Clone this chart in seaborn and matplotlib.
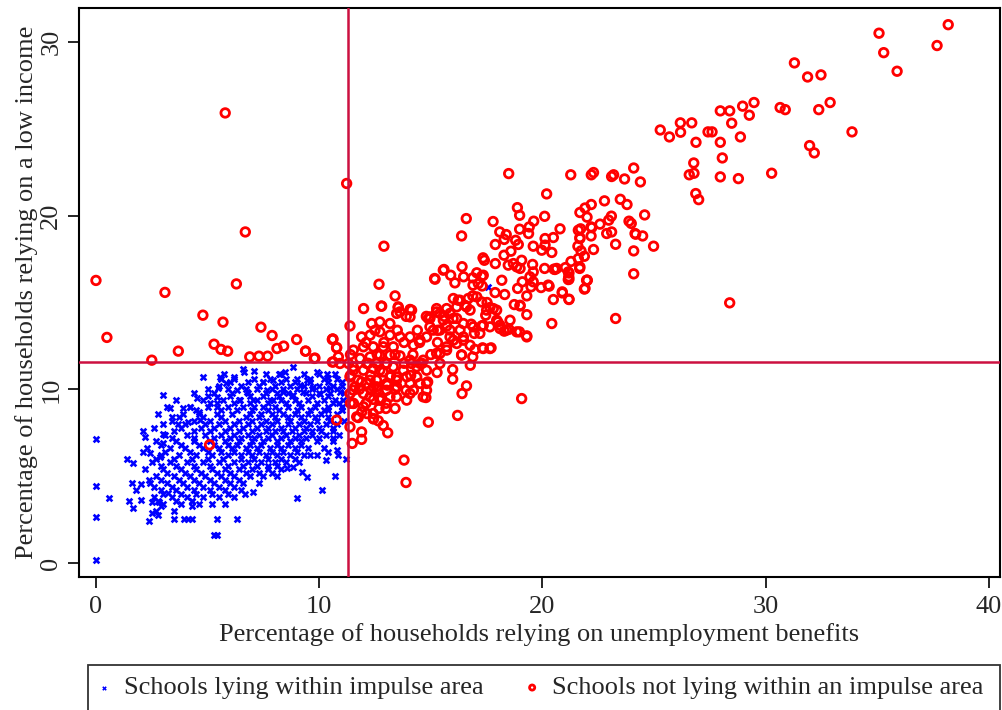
import numpy as np
import pandas as pd
import matplotlib
matplotlib.use("Agg")
import matplotlib.pyplot as plt
from matplotlib.patches import Rectangle
import seaborn as sns

# Schools not lying within an impulse area: (unemployment benefits %, low income %)
red_left = [
    (0.0, 16.27), (0.49, 12.99), (2.5, 11.68), (3.09, 15.58), (3.69, 12.2), (4.79, 14.27),
    (5.69, 13.87), (5.29, 12.6), (5.6, 12.3), (5.9, 12.2), (5.79, 25.91), (6.29, 16.07),
    (6.69, 19.06), (6.89, 11.87), (7.3, 11.91), (7.69, 11.91), (7.39, 13.58), (7.89, 13.1),
    (8.11, 12.35), (8.41, 12.49), (8.99, 12.87), (9.39, 12.2), (9.81, 11.8), (10.59, 12.87),
    (10.78, 12.39), (10.59, 11.57), (10.93, 11.49), (10.62, 12.89), (10.86, 11.87),
    (10.63, 11.58), (11.23, 21.85), (5.09, 6.81), (10.78, 8.23),
]
red_top = [
    (38.18, 30.99), (35.08, 30.5), (37.68, 29.79), (35.29, 29.38), (35.89, 28.31),
    (31.29, 28.79), (31.88, 27.98), (32.48, 28.1), (29.48, 26.51), (28.97, 26.3),
    (29.27, 25.78), (27.97, 26.03), (28.39, 26.03), (28.48, 25.32), (28.87, 24.53),
    (27.97, 24.22), (28.06, 23.32), (27.97, 22.23), (28.78, 22.13), (30.27, 22.44),
    (26.78, 23.03), (26.58, 22.35), (26.79, 22.44), (26.87, 21.27), (27.0, 20.92),
    (26.88, 24.22), (27.42, 24.82), (27.6, 24.82), (26.18, 25.34), (26.69, 25.34),
    (26.19, 24.8), (25.28, 24.93), (25.69, 24.53), (30.65, 26.22), (30.88, 26.1),
    (32.38, 26.1), (32.89, 26.51), (33.87, 24.82), (31.97, 24.03), (32.18, 23.61),
    (28.39, 14.98),
]
red_mid = [
    (21.27, 22.35), (22.19, 22.35), (22.29, 22.48), (23.1, 22.25), (23.19, 22.35),
    (23.68, 22.11), (24.09, 22.74), (24.39, 21.94), (22.78, 20.85), (23.49, 20.94),
    (23.79, 20.64), (24.58, 20.04), (22.19, 20.64), (21.91, 20.44), (21.68, 20.18),
    (22.0, 19.91), (23.09, 19.97), (22.97, 19.74), (22.58, 19.51), (23.88, 19.68),
    (23.98, 19.55), (20.79, 19.24), (21.61, 19.16), (21.71, 19.24), (22.18, 19.35),
    (22.18, 18.83), (21.68, 18.74), (22.88, 18.97), (23.1, 19.06), (24.18, 18.93),
    (24.49, 18.83), (23.28, 18.35), (24.98, 18.24), (24.09, 17.97), (22.29, 18.05),
    (21.59, 18.24), (20.49, 18.74), (20.42, 17.88), (21.73, 17.97), (21.88, 17.66),
    (21.61, 17.53), (21.28, 17.36), (21.03, 17.01), (20.56, 16.9), (21.19, 16.7),
    (21.67, 16.96), (21.19, 16.34), (22.0, 16.28), (21.88, 15.77), (20.89, 15.55),
    (21.19, 15.17), (20.49, 15.17), (24.09, 16.65), (23.28, 14.08), (20.42, 13.79),
    (20.12, 18.68), (20.12, 18.3), (19.97, 18.01), (19.59, 18.24), (21.68, 18.68),
    (22.21, 19.31), (21.16, 16.76), (21.16, 16.32), (21.98, 16.28), (20.64, 16.96),
    (20.26, 16.0), (24.15, 18.97),
]
red_upper_core = [
    (18.49, 22.42), (16.59, 19.83), (16.38, 18.83), (17.79, 19.66), (18.88, 20.46),
    (18.98, 20.02), (20.19, 21.25), (20.1, 19.96), (19.61, 19.68), (19.41, 19.35),
    (19.38, 18.97), (18.09, 19.06), (18.38, 18.91), (18.29, 18.63), (18.98, 19.22),
    (17.89, 18.34), (18.8, 18.58), (18.92, 18.34), (18.59, 17.95), (18.28, 17.72),
    (17.89, 17.24), (17.34, 17.57), (17.4, 17.43), (18.47, 17.15), (18.7, 17.24),
    (19.0, 16.96), (19.07, 17.43), (19.56, 17.19), (20.1, 16.96), (20.52, 16.92),
    (19.59, 16.76), (15.59, 16.9), (15.89, 16.57), (16.08, 16.13), (16.4, 17.06),
    (16.47, 16.48), (15.17, 16.38), (16.88, 16.42), (17.06, 16.71), (17.28, 16.51),
    (16.89, 16.0), (17.13, 16.09), (16.88, 15.38), (17.3, 15.95), (18.18, 16.28),
    (17.88, 15.57), (18.31, 15.46), (18.89, 15.81), (19.1, 16.19), (19.3, 15.38),
    (19.49, 15.9), (19.59, 16.19), (19.94, 15.86), (20.3, 15.94), (20.89, 15.61),
    (21.19, 15.19), (21.91, 15.81), (22.01, 16.28), (21.18, 16.48), (21.68, 17.05),
    (19.3, 14.3), (18.74, 14.88), (19.0, 14.8), (18.0, 13.88), (18.1, 13.69),
    (18.29, 13.35), (18.5, 13.46), (18.97, 13.31), (19.3, 13.08), (17.52, 15.0),
    (17.65, 14.71), (17.95, 14.56), (17.46, 14.27), (17.28, 13.65), (16.81, 13.75),
    (16.95, 13.22), (17.7, 12.39), (17.32, 12.39), (16.98, 12.3), (16.88, 11.87),
    (16.77, 11.39), (16.38, 11.99), (16.6, 10.2), (16.4, 9.76), (16.2, 8.5),
    (19.07, 9.47), (18.85, 17.05), (19.44, 16.48), (17.35, 16.57), (17.35, 13.69),
    (15.56, 16.86), (15.19, 16.34), (16.01, 15.23), (16.23, 15.13), (16.53, 14.84),
    (16.76, 14.56), (17.06, 15.32), (17.28, 15.03), (17.5, 14.56), (17.8, 14.65),
    (14.96, 14.17), (15.26, 14.46), (15.56, 13.98), (15.86, 14.37), (16.16, 14.08),
    (16.46, 13.79), (14.96, 13.6), (15.41, 13.41), (15.86, 13.41), (16.31, 13.41),
    (16.9, 13.6), (17.2, 13.22), (17.65, 13.6), (18.1, 13.5), (18.4, 13.41),
    (18.85, 13.31), (19.3, 13.02), (17.95, 13.98), (18.55, 13.98), (19.0, 14.84),
    (17.35, 12.35), (17.65, 12.35), (16.76, 12.54), (16.46, 12.83), (16.38, 11.97),
    (16.01, 12.83), (15.71, 12.26), (15.26, 12.07),
]
red_lower_core = [
    (12.9, 18.24), (12.68, 16.05), (13.4, 15.38), (12.8, 14.79), (11.99, 14.65),
    (11.38, 13.65), (10.6, 12.9), (9.39, 12.2), (9.78, 11.78), (10.78, 12.41),
    (13.07, 7.5), (12.87, 7.92), (12.65, 8.19), (12.43, 8.3), (11.9, 7.55), (11.9, 7.12),
    (11.48, 6.89), (11.75, 8.38), (11.38, 7.84), (13.4, 8.9), (12.99, 8.9), (12.68, 8.9),
    (12.8, 9.47), (12.43, 9.42), (13.17, 9.57), (13.89, 9.95), (13.47, 10.14),
    (13.05, 10.24), (14.14, 11.49), (13.62, 11.93), (14.22, 12.54), (14.81, 13.02),
    (15.11, 13.41), (14.96, 14.08), (15.71, 13.64), (16.0, 14.08), (15.41, 14.37),
    (16.16, 14.75), (15.71, 14.65), (16.31, 15.13), (16.6, 14.75), (16.68, 15.23),
    (15.26, 14.65), (14.89, 14.08), (14.14, 14.56), (14.07, 14.17), (13.62, 14.46),
    (13.54, 14.75), (13.17, 13.79), (12.72, 13.88), (12.35, 13.79), (13.17, 13.12),
    (12.72, 13.31), (12.28, 13.12), (11.9, 13.02), (13.62, 13.02), (14.07, 13.02),
    (14.52, 12.83), (11.98, 12.45), (12.42, 12.45), (12.87, 12.45), (13.32, 12.45),
    (11.53, 12.26), (11.83, 11.78), (12.28, 11.87), (12.72, 11.97), (13.17, 11.97),
    (11.53, 11.3), (11.98, 11.1), (12.42, 11.2), (12.87, 11.0), (13.32, 11.3),
    (13.77, 11.1), (11.75, 10.53), (12.13, 10.34), (12.57, 10.53), (13.02, 10.34),
    (13.47, 10.53), (13.92, 10.72), (11.53, 9.95), (11.98, 9.76), (12.35, 9.95),
    (11.53, 9.19), (11.98, 9.0), (12.42, 8.61), (14.37, 11.3), (14.66, 11.68),
    (14.52, 10.34), (14.22, 9.95), (15.41, 12.07), (15.71, 12.45), (15.86, 13.02),
    (16.16, 12.64), (16.46, 13.02), (15.41, 11.49), (14.86, 10.43), (14.81, 9.95),
    (14.78, 9.53), (13.8, 5.93), (13.89, 4.64), (15.98, 11.14), (15.98, 10.59),
    (15.28, 10.97), (14.89, 8.11), (12.78, 14.79), (13.54, 14.71), (14.07, 14.6),
    (13.47, 14.37), (11.31, 11.49), (11.53, 11.1), (11.38, 10.72), (11.6, 10.14),
    (11.38, 9.76), (11.53, 9.19), (11.91, 8.71), (11.68, 8.42), (12.13, 8.61),
    (12.43, 8.32), (11.9, 10.43), (12.43, 10.14), (12.72, 9.38), (12.28, 9.57),
    (12.2, 11.5), (13.0, 11.5), (13.8, 11.5), (14.6, 11.5), (11.4, 12.0), (12.6, 12.0),
    (13.4, 12.0), (14.2, 12.0), (15.0, 12.0), (12.1, 12.7), (12.9, 12.7), (13.8, 12.7),
    (14.5, 12.7), (15.3, 12.7), (12.5, 13.4), (13.5, 13.4), (14.4, 13.4), (15.3, 13.4),
    (13.9, 14.2), (14.8, 14.2), (15.6, 14.2), (11.4, 10.8), (12.3, 10.8), (13.2, 10.8),
    (14.1, 10.8), (11.8, 10.0), (12.6, 10.0), (13.4, 10.0), (11.4, 9.2), (12.1, 9.2),
    (13.0, 9.2), (14.07, 11.68), (14.52, 11.49), (14.81, 11.1), (14.37, 10.72),
    (14.07, 10.34), (14.81, 10.34), (14.07, 9.76), (14.66, 9.57), (13.47, 10.15),
    (13.17, 10.72), (12.72, 11.1), (13.47, 10.72), (13.92, 9.38), (13.47, 9.57),
    (13.02, 9.95), (12.57, 10.15), (12.28, 10.53), (12.13, 11.49), (12.57, 11.49),
    (13.02, 11.49),
]

# Schools lying within an impulse area
blue_edge = [
    (0.0, 7.12), (0.0, 4.43), (0.0, 2.63), (0.0, 0.16), (0.6, 3.72), (1.37, 6.02),
    (1.67, 5.79), (1.49, 3.55), (1.67, 3.15), (1.6, 4.62), (1.79, 4.22), (2.02, 4.53),
    (2.0, 3.62), (2.09, 6.4), (2.12, 7.61), (2.2, 7.23), (2.39, 2.43), (2.5, 2.86),
    (2.76, 2.76), (2.81, 3.53), (2.9, 3.26), (2.5, 3.49), (2.99, 9.67), (2.42, 6.31),
    (2.39, 4.78), (2.87, 6.12), (2.99, 6.89), (2.99, 7.42), (3.24, 4.01), (3.51, 2.53),
    (3.96, 2.53), (4.11, 2.53), (4.29, 2.53), (4.29, 3.57), (4.29, 3.3), (5.41, 2.53),
    (6.3, 2.53), (5.27, 1.63), (5.41, 1.63), (5.79, 3.43), (6.2, 3.81), (6.68, 3.95),
    (7.02, 4.07), (3.3, 8.9), (3.42, 8.42), (3.69, 8.0), (4.11, 8.1), (3.88, 8.9),
    (4.21, 8.99), (4.51, 9.48), (4.63, 8.71), (4.66, 8.23), (4.81, 10.69), (5.11, 9.19),
    (5.41, 8.99), (5.48, 10.05), (5.43, 9.57), (5.56, 10.69), (5.73, 10.91), (5.81, 10.34),
    (6.18, 10.69), (6.6, 11.2), (7.09, 11.06), (6.64, 11.0), (8.99, 3.72), (8.84, 5.54),
    (8.54, 5.45), (9.22, 5.22), (9.44, 4.97), (10.11, 4.2), (10.71, 5.02), (10.29, 5.93),
    (9.59, 6.21), (9.89, 6.25), (10.41, 6.4), (10.79, 6.5), (10.86, 6.21), (11.19, 6.02),
    (8.24, 10.91), (8.84, 11.3), (8.47, 11.0), (7.94, 10.53), (9.89, 11.0), (10.34, 10.91),
    (10.41, 10.63), (9.44, 10.53), (9.14, 10.24), (7.5, 10.43), (6.75, 9.86), (6.3, 9.95),
    (6.45, 9.38), (7.05, 9.38), (7.65, 9.95), (7.94, 9.38), (8.39, 9.86), (8.84, 9.67),
    (9.29, 9.86), (9.74, 10.14), (10.04, 9.76), (10.48, 10.05), (10.93, 9.86),
    (11.08, 9.38), (17.58, 15.9),
]
# Dense body of the within-area cloud, row by row: (low income %, [unemployment %])
blue_rows = [
    (10.9, [7.6, 8.2, 9.3, 10.0, 10.7]),
    (10.6, [5.6, 6.2, 7.1, 7.8, 8.5, 9.0, 9.6, 10.2, 10.8]),
    (10.4, [6.0, 6.8, 7.5, 8.3, 8.9, 9.6, 10.4, 11.0]),
    (10.2, [5.5, 6.5, 7.3, 8.0, 8.7, 9.3, 10.0, 10.6, 11.0]),
    (10.0, [5.0, 5.9, 6.7, 7.2, 7.9, 8.4, 9.0, 9.7, 10.3, 10.8]),
    (9.8, [4.4, 5.3, 6.1, 6.8, 7.6, 8.1, 8.6, 9.4, 10.0, 10.5, 11.1]),
    (9.6, [5.0, 6.0, 6.9, 7.5, 8.2, 8.8, 9.7, 10.4]),
    (9.4, [3.6, 4.8, 5.7, 6.4, 7.2, 7.8, 8.3, 8.9, 9.5, 10.2, 10.7]),
    (9.2, [5.4, 6.2, 6.9, 7.7, 8.5, 9.1, 9.9, 10.6, 10.9]),
    (9.0, [3.2, 4.2, 5.0, 5.9, 6.6, 7.1, 7.5, 8.0, 8.6, 9.2, 9.8, 10.4, 11.0]),
    (8.8, [4.5, 5.6, 6.3, 7.0, 7.7, 8.2, 9.0, 9.6, 10.2, 10.4, 11.0]),
    (8.6, [2.8, 3.9, 4.6, 5.4, 6.1, 6.9, 7.4, 7.9, 8.4, 8.9, 9.5, 10.1, 10.8]),
    (8.4, [3.7, 4.8, 5.6, 6.7, 7.3, 8.0, 8.6, 9.2, 9.8, 10.4]),
    (8.2, [3.4, 4.4, 5.1, 5.8, 6.4, 7.0, 7.6, 8.1, 8.7, 9.3, 9.9, 10.5, 11.1]),
    (8.0, [3.0, 4.0, 4.9, 5.5, 6.2, 6.8, 7.4, 7.9, 8.6, 9.1, 9.6, 10.3, 10.8]),
    (7.8, [2.6, 3.8, 4.7, 5.3, 6.0, 6.6, 7.2, 7.7, 8.3, 8.9, 9.4, 10.0, 10.6]),
    (7.6, [3.5, 4.4, 5.1, 5.8, 6.4, 7.0, 7.6, 8.0, 8.4, 8.8, 9.3, 9.7, 10.1, 10.6]),
    (7.4, [3.1, 4.1, 4.9, 5.6, 6.2, 6.8, 7.3, 7.9, 8.5, 9.1, 9.7, 10.3, 10.9]),
    (7.2, [3.4, 4.4, 5.3, 6.0, 6.5, 7.1, 7.7, 8.3, 8.9, 9.4, 10.0, 10.6]),
    (7.0, [2.7, 3.6, 4.4, 5.1, 5.8, 6.4, 7.0, 7.5, 8.1, 8.7, 9.2, 9.9, 10.6]),
    (6.8, [2.9, 3.8, 4.6, 5.3, 5.9, 6.3, 6.9, 7.4, 8.1, 8.6, 9.2]),
    (6.6, [2.3, 3.3, 4.0, 4.8, 5.5, 6.1, 6.7, 7.2, 7.8, 8.3, 8.9, 9.5, 10.2]),
    (6.4, [3.1, 4.2, 5.0, 5.6, 6.2, 6.8, 7.3, 7.9, 8.4, 9.0]),
    (6.2, [2.9, 3.7, 4.5, 5.2, 5.9, 6.5, 7.0, 7.6, 8.1, 8.7, 9.3]),
    (6.0, [2.7, 3.5, 4.3, 5.0, 5.7, 6.5, 7.1, 7.7, 8.3, 8.9]),
    (5.8, [2.5, 3.3, 4.1, 4.8, 5.5, 6.2, 6.8, 7.4, 8.0, 8.5, 9.1]),
    (5.6, [2.9, 3.6, 4.4, 5.1, 5.9, 6.6, 7.2, 7.7, 8.1]),
    (5.4, [2.2, 3.0, 3.8, 4.5, 5.2, 5.8, 6.4, 7.0, 7.7, 8.3]),
    (5.2, [3.2, 4.0, 4.7, 5.4, 6.0, 6.7, 7.3, 7.9]),
    (5.0, [2.7, 3.5, 4.2, 4.9, 5.6, 6.2, 6.9, 7.5, 8.1]),
    (4.8, [2.9, 3.7, 4.4, 5.1, 5.8, 6.4]),
    (4.6, [2.4, 3.2, 3.9, 4.6, 5.3, 6.0, 6.6, 7.3]),
    (4.4, [2.6, 3.4, 4.1, 4.8, 5.5, 6.2]),
    (4.2, [2.9, 3.6, 4.4, 5.1, 5.8, 6.5]),
    (4.0, [3.0, 3.8, 4.5, 5.2, 5.9]),
    (3.8, [2.6, 3.4, 4.1, 4.8, 5.5]),
    (3.6, [2.8, 3.6, 4.3]),
    (3.4, [3.0, 3.8, 4.6, 5.2]),
    (3.0, [2.7, 3.5]),
]

x_ticks = [0, 10, 20, 30, 40]
y_ticks = [0, 10, 20, 30]
cut_unemployment = 11.3
cut_low_income = 11.6
x_label = "Percentage of households relying on unemployment benefits"
y_label = "Percentage of households relying on a low income"
label_within = "Schools lying within impulse area"
label_outside = "Schools not lying within an impulse area"

red = np.array(red_left + red_top + red_mid + red_upper_core + red_lower_core)
blue_pts = list(blue_edge)
for yv, xs in blue_rows:
    blue_pts.extend((xv, yv) for xv in xs)
blue = np.array(blue_pts)

df_out = pd.DataFrame({"unemp": red[:, 0], "lowinc": red[:, 1]})
df_in = pd.DataFrame({"unemp": blue[:, 0], "lowinc": blue[:, 1]})

sns.set_theme(style="white")
plt.rcParams["font.family"] = ["Liberation Serif", "DejaVu Serif"]
fs = 19

fig = plt.figure(figsize=(10.03, 7.10), dpi=100)
ax = fig.add_axes([79 / 1003, 1 - 577 / 710, (1000 - 79) / 1003, (577 - 8) / 710])

line_col = "#cc1040"
sns.scatterplot(data=df_in, x="unemp", y="lowinc", ax=ax, marker="X", s=30,
                color="#0000ff", linewidth=0, label=label_within, zorder=3)
sns.scatterplot(data=df_out, x="unemp", y="lowinc", ax=ax, marker="o", s=38,
                facecolors="none", edgecolor="#ff0000", linewidth=2.0,
                label=label_outside, zorder=4)
ax.axvline(cut_unemployment, color=line_col, lw=1.8, zorder=5)
ax.axhline(cut_low_income, color=line_col, lw=1.8, zorder=5)

ax.set_xlim(-0.76, 40.5)
ax.set_ylim(-0.8, 31.95)
ax.set_xticks(x_ticks)
ax.set_yticks(y_ticks)
ax.tick_params(axis="both", direction="out", length=8, width=1.2, color="black",
               labelsize=fs, pad=6, bottom=True, left=True)
ax.tick_params(axis="y", pad=4)
plt.setp(ax.get_yticklabels(), rotation=90, va="center")
ax.set_xlabel(x_label, fontsize=fs, labelpad=3)
ax.set_ylabel(y_label, fontsize=fs, labelpad=2)
for sp in ax.spines.values():
    sp.set_color("black")
    sp.set_linewidth(1.5)
ax.grid(False)

handles, labels = ax.get_legend_handles_labels()
ax.get_legend().remove()
leg = fig.legend(handles, labels, loc="upper left", ncol=2,
                 bbox_to_anchor=(96 / 1003, 1 - 676 / 710),
                 frameon=False, fontsize=fs, markerscale=0.6,
                 handlelength=0.6, handletextpad=0.45, borderaxespad=0.0,
                 borderpad=0.0, columnspacing=1.55)
fig.add_artist(Rectangle((88 / 1003, -0.05), (1000 - 88) / 1003, 0.05 + 45 / 710,
                         transform=fig.transFigure, fill=False, edgecolor="#333333",
                         linewidth=1.3))

fig.savefig("out.png", dpi=100)
